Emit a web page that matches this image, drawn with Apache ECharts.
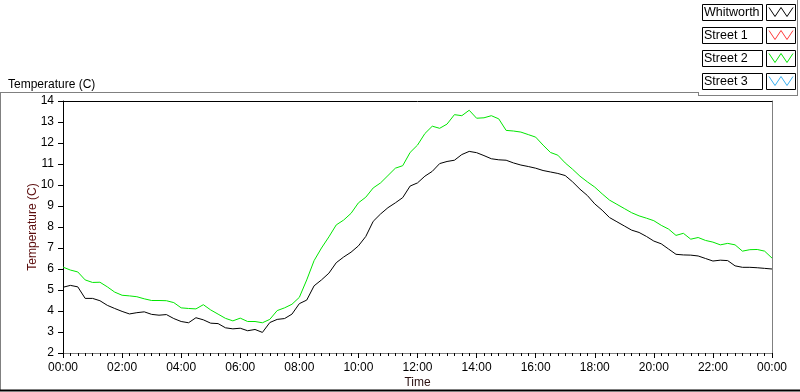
<!DOCTYPE html>
<html>
<head>
<meta charset="utf-8">
<script src="https://cdn.jsdelivr.net/npm/echarts@6/dist/echarts.min.js"></script>
<style>
  html, body { margin: 0; padding: 0; background: #fff; }
  #chart { width: 800px; height: 392px; }
</style>
</head>
<body>
<div id="chart"></div>
<script>
// samples every 15 minutes, 00:00 .. 24:00 (hours)
const stepHours = 0.25;

const seriesNames = ['Whitworth', 'Street 1', 'Street 2', 'Street 3'];
const seriesColors = ['#000000', '#ff3a3a', '#00e600', '#3ab0f0'];

const whitworth = [
  5.13, 5.22, 5.15, 4.60, 4.60, 4.49, 4.27, 4.12,
  3.98, 3.86, 3.92, 3.96, 3.84, 3.80, 3.83, 3.64,
  3.50, 3.44, 3.68, 3.58, 3.42, 3.40, 3.20, 3.15,
  3.18, 3.06, 3.12, 2.98, 3.45, 3.60, 3.64, 3.85,
  4.35, 4.52, 5.20, 5.48, 5.80, 6.30, 6.57, 6.80,
  7.10, 7.55, 8.27, 8.62, 8.92, 9.15, 9.40, 9.95,
  10.10, 10.42, 10.65, 11.02, 11.12, 11.18, 11.45, 11.60,
  11.54, 11.40, 11.25, 11.20, 11.18, 11.05, 10.95, 10.88,
  10.80, 10.69, 10.62, 10.55, 10.45, 10.15, 9.80, 9.50,
  9.10, 8.80, 8.45, 8.25, 8.05, 7.85, 7.74, 7.55,
  7.33, 7.20, 6.95, 6.70, 6.67, 6.66, 6.62, 6.50,
  6.38, 6.42, 6.40, 6.15, 6.08, 6.08, 6.06, 6.03,
  6.00
];

const street1 = [];

const street2 = [
  6.09, 5.95, 5.86, 5.48, 5.36, 5.37, 5.15, 4.90,
  4.75, 4.72, 4.68, 4.58, 4.50, 4.50, 4.49, 4.40,
  4.15, 4.12, 4.10, 4.30, 4.05, 3.85, 3.65, 3.53,
  3.66, 3.50, 3.50, 3.44, 3.60, 4.02, 4.15, 4.32,
  4.65, 5.48, 6.40, 7.00, 7.53, 8.10, 8.33, 8.65,
  9.15, 9.42, 9.86, 10.10, 10.45, 10.80, 10.92, 11.55,
  11.90, 12.45, 12.80, 12.70, 12.90, 13.35, 13.30, 13.56,
  13.18, 13.20, 13.30, 13.15, 12.60, 12.57, 12.52, 12.40,
  12.28, 11.90, 11.55, 11.42, 11.05, 10.75, 10.42, 10.15,
  9.90, 9.58, 9.28, 9.08, 8.88, 8.68, 8.53, 8.42,
  8.30, 8.08, 7.90, 7.60, 7.70, 7.42, 7.50, 7.36,
  7.28, 7.15, 7.22, 7.15, 6.85, 6.92, 6.93, 6.85,
  6.52
];

const street3 = [];

const seriesValues = [whitworth, street1, street2, street3];

const font = 'Liberation Sans';
const chart = echarts.init(document.getElementById('chart'));

const toPairs = arr => arr.map((v, i) => [i * stepHours, v]);

// LabVIEW-style plot legend: name box + swatch box with a zigzag
const legendItems = [];
seriesNames.forEach((name, k) => {
  const y = 4.5 + k * 23;
  legendItems.push(
    { type: 'rect', shape: { x: 702.5, y: y, width: 60, height: 16 },
      style: { fill: '#fff', stroke: '#000', lineWidth: 1 } },
    { type: 'text', x: 704, y: y + 8.5,
      style: { text: name, font: '12.5px "' + font + '"', fill: '#000', verticalAlign: 'middle' } },
    { type: 'rect', shape: { x: 766.5, y: y, width: 29, height: 16 },
      style: { fill: '#fff', stroke: '#000', lineWidth: 1 } },
    { type: 'polyline',
      shape: { points: [[769, y + 3], [775, y + 12], [781, y + 3], [787, y + 12], [793, y + 3]] },
      style: { stroke: seriesColors[k], lineWidth: 1, fill: 'none' } }
  );
});

const option = {
  animation: false,
  title: {
    text: 'Temperature (C)',
    left: 3, top: 74,
    textStyle: { fontFamily: font, fontSize: 12, fontWeight: 'normal', color: '#000' }
  },
  grid: { left: 63, right: 28, top: 101, bottom: 39, outerBoundsMode: 'none' },
  xAxis: [{
    type: 'value', min: 0, max: 24, interval: 2,
    name: 'Time', nameLocation: 'middle', nameGap: 24, nameMoveOverlap: false,
    nameTextStyle: { fontFamily: font, fontSize: 12, color: '#2a1010' },
    axisLine: { lineStyle: { color: '#808080', width: 1 } },
    axisTick: { length: 5, lineStyle: { color: '#000' } },
    minorTick: { show: true, splitNumber: 8, length: 3, lineStyle: { color: '#000' } },
    splitLine: { show: false },
    axisLabel: {
      margin: 9, fontFamily: font, fontSize: 12, color: '#000',
      formatter: v => { const h = v % 24; return (h < 10 ? '0' : '') + h + ':00'; }
    }
  }, {
    type: 'value', min: 0, max: 24, position: 'top',
    axisLine: { show: true, onZero: false, lineStyle: { color: '#000', width: 1 } },
    axisTick: { show: false }, axisLabel: { show: false }, splitLine: { show: false }
  }],
  yAxis: [{
    type: 'value', min: 2, max: 14, interval: 1,
    name: 'Temperature (C)', nameLocation: 'middle', nameGap: 24, nameRotate: 90, nameMoveOverlap: false,
    nameTextStyle: { fontFamily: font, fontSize: 12, color: '#5a0c0c' },
    axisLine: { show: true, lineStyle: { color: '#000', width: 1 } },
    axisTick: { show: true, length: 5, lineStyle: { color: '#000' } },
    splitLine: { show: false },
    axisLabel: { margin: 9, fontFamily: font, fontSize: 12, color: '#000' }
  }, {
    type: 'value', min: 2, max: 14, position: 'right',
    axisLine: { show: true, onZero: false, lineStyle: { color: '#808080', width: 1 } },
    axisTick: { show: false }, axisLabel: { show: false }, splitLine: { show: false }
  }],
  series: seriesNames.map((name, k) => ({
    name: name,
    type: 'line',
    data: toPairs(seriesValues[k]),
    showSymbol: false,
    symbol: 'none',
    lineStyle: { color: seriesColors[k], width: 1 },
    itemStyle: { color: seriesColors[k] }
  })),
  graphic: [
    // outer frame of the graph panel
    { type: 'line', shape: { x1: 0, y1: 92.5, x2: 698, y2: 92.5 }, style: { stroke: '#808080', lineWidth: 1 } },
    { type: 'line', shape: { x1: 0.5, y1: 92, x2: 0.5, y2: 390 }, style: { stroke: '#808080', lineWidth: 1 } },
    { type: 'line', shape: { x1: 0, y1: 390.5, x2: 800, y2: 390.5 }, style: { stroke: '#000', lineWidth: 2 } },
    // legend panel
    { type: 'line', shape: { x1: 698.5, y1: 92, x2: 698.5, y2: 95.5 }, style: { stroke: '#808080', lineWidth: 1 } },
    { type: 'line', shape: { x1: 698, y1: 95.5, x2: 798, y2: 95.5 }, style: { stroke: '#808080', lineWidth: 1 } },
    { type: 'line', shape: { x1: 797.5, y1: 0, x2: 797.5, y2: 96 }, style: { stroke: '#808080', lineWidth: 1 } }
  ].concat(legendItems)
};

chart.setOption(option);
</script>
</body>
</html>
